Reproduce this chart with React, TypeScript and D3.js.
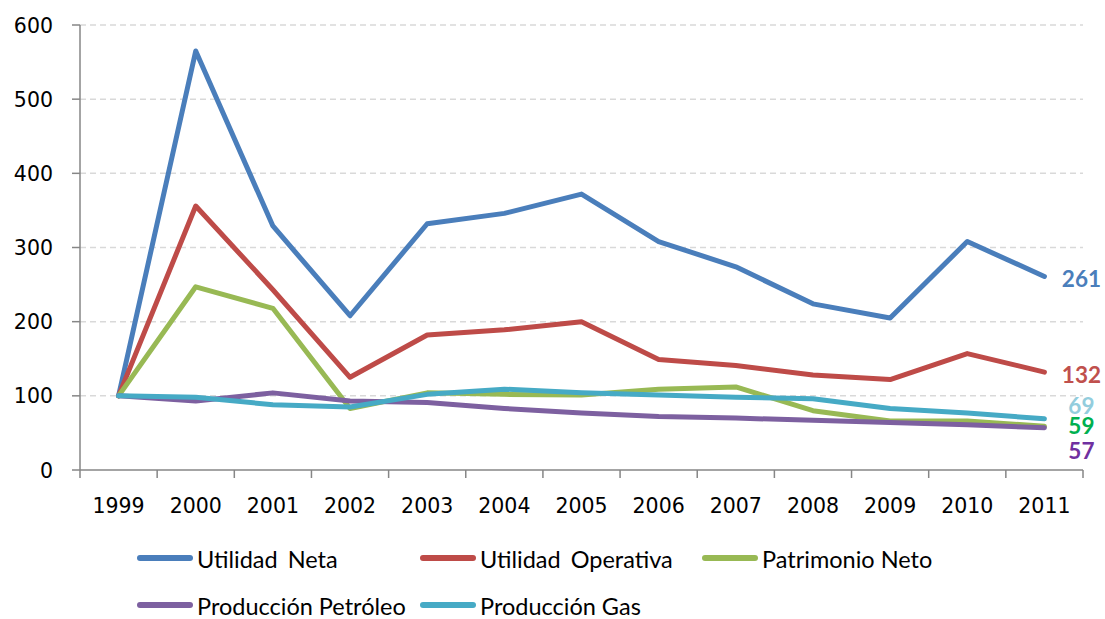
import React from "react";
import * as d3 from "d3";

// Index values (1999 = 100)
const years = ["1999", "2000", "2001", "2002", "2003", "2004", "2005", "2006", "2007", "2008", "2009", "2010", "2011"];
const utilidadNeta = [100, 565, 329, 208, 332, 346, 372, 308, 274, 224, 205, 308, 261];
const utilidadOperativa = [100, 356, 243, 125, 182, 189, 200, 149, 141, 128, 122, 157, 132];
const patrimonioNeto = [100, 247, 218, 83, 104, 102, 101, 109, 112, 80, 66, 66, 59];
const produccionPetroleo = [100, 93, 104, 93, 91, 83, 77, 72, 70, 67, 64, 61, 57];
const produccionGas = [100, 98, 88, 85, 102, 109, 104, 101, 98, 96, 83, 77, 69];
const yTicks = [0, 100, 200, 300, 400, 500, 600];

const series = [
  { name: "Utilidad Neta", values: utilidadNeta, color: "#4A7EBB", labelColor: "#4A7EBB", labelDy: 10.5, wordGap: 4 },
  { name: "Utilidad Operativa", values: utilidadOperativa, color: "#BE4B48", labelColor: "#C0504D", labelDy: 11, wordGap: 4 },
  { name: "Patrimonio Neto", values: patrimonioNeto, color: "#98B954", labelColor: "#00B050", labelDy: 8, wordGap: 0 },
  { name: "Producción Petróleo", values: produccionPetroleo, color: "#7D60A0", labelColor: "#7030A0", labelDy: 31, wordGap: 0 },
  { name: "Producción Gas", values: produccionGas, color: "#46AAC5", labelColor: "#93CDDD", labelDy: -5, wordGap: 0 },
];

// legend slots: [x of swatch, y center]
const legendSlots = [
  [137, 558],
  [420, 558],
  [702, 558],
  [137, 605],
  [420, 605],
];

export default function App() {
  const left = 80;
  const right = 1083;
  const top = 25;
  const bottom = 470;

  const x = d3.scaleBand<string>().domain(years).range([left, right]).padding(0);
  const y = d3.scaleLinear().domain([0, 600]).range([bottom, top]);
  const cx = (yr: string) => (x(yr) as number) + x.bandwidth() / 2;

  const line = d3
    .line<number>()
    .x((_, i) => cx(years[i]))
    .y((v) => y(v));

  const tickFont = "'DejaVu Sans', Verdana, sans-serif";
  const legendFont = "Lato, 'Open Sans', sans-serif";

  const bandEdges = years.map((yr) => x(yr) as number).concat([right]);

  return (
    <svg width={1105} height={619} style={{ position: "absolute", left: 0, top: 0, background: "#fff" }}>
      {/* gridlines */}
      {yTicks.filter((t) => t > 0).map((t) => (
        <line key={"g" + t} x1={left} x2={right} y1={y(t)} y2={y(t)} stroke="#D9D9D9" strokeWidth={1.5} strokeDasharray="6,4" />
      ))}
      {/* y axis */}
      <line x1={left} x2={left} y1={top} y2={bottom} stroke="#868686" strokeWidth={1.5} />
      {yTicks.map((t) => (
        <g key={"yt" + t}>
          <line x1={left - 8} x2={left} y1={y(t)} y2={y(t)} stroke="#868686" strokeWidth={1.5} />
          <text x={53} y={y(t) + 7.5} textAnchor="end" fontFamily={tickFont} fontSize={20.5} fill="#000">
            {t}
          </text>
        </g>
      ))}
      {/* x axis */}
      <line x1={left} x2={right} y1={bottom} y2={bottom} stroke="#868686" strokeWidth={1.5} />
      {bandEdges.map((bx, i) => (
        <line key={"xt" + i} x1={bx} x2={bx} y1={bottom} y2={bottom + 8} stroke="#868686" strokeWidth={1.5} />
      ))}
      {years.map((yr) => (
        <text key={"xl" + yr} x={cx(yr)} y={513} textAnchor="middle" fontFamily={tickFont} fontSize={20.5} fill="#000">
          {yr}
        </text>
      ))}
      {/* series lines */}
      {series.map((s) => (
        <path
          key={s.name}
          d={line(s.values) as string}
          fill="none"
          stroke={s.color}
          strokeWidth={5}
          strokeLinejoin="round"
          strokeLinecap="round"
        />
      ))}
      {/* end value labels */}
      {series.map((s) => {
        const last = s.values[s.values.length - 1];
        return (
          <text
            key={"lab" + s.name}
            x={cx(years[years.length - 1]) + 37}
            y={y(last) + s.labelDy}
            textAnchor="middle"
            fontFamily={legendFont}
            fontWeight="bold"
            fontSize={22.5}
            fill={s.labelColor}
          >
            {last}
          </text>
        );
      })}
      {/* legend */}
      {series.map((s, i) => {
        const [lx, ly] = legendSlots[i];
        return (
          <g key={"lg" + s.name}>
            <line x1={lx + 3} x2={lx + 53} y1={ly} y2={ly} stroke={s.color} strokeWidth={6} strokeLinecap="round" />
            <text x={lx + 60} y={ly + 10} fontFamily={legendFont} fontSize={23.5} wordSpacing={s.wordGap} fill="#000">
              {s.name}
            </text>
          </g>
        );
      })}
    </svg>
  );
}
